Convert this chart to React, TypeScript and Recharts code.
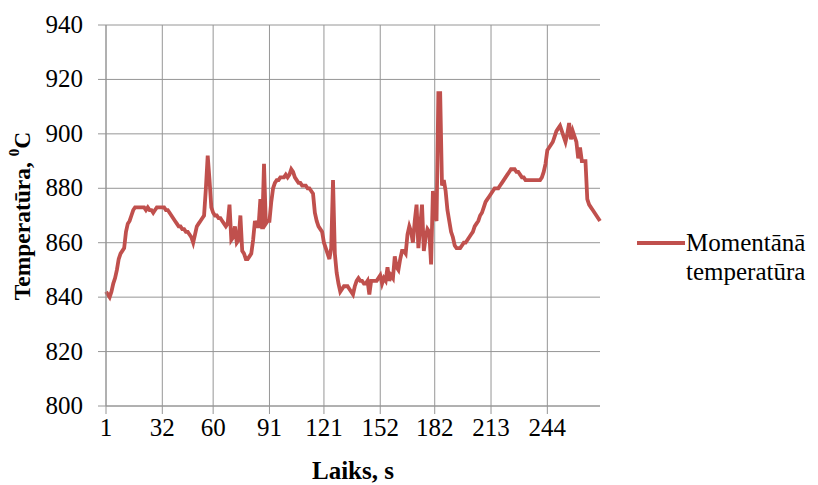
import { CartesianGrid, Line, LineChart, XAxis, YAxis } from 'recharts';
import type { ReactElement } from 'react';

// momentānā temperatūra, one reading per second (s = 1 … 273)
const temperature: number[] = [
  842, 841, 840, 842, 845, 847, 850, 854, 856, 857,
  858, 864, 867, 868, 870, 872, 873, 873, 873, 873,
  873, 873, 872, 873, 872, 872, 871, 872, 873, 873,
  873, 873, 873, 872, 872, 871, 870, 869, 868, 867,
  866, 866, 865, 865, 864, 864, 863, 862, 860, 863,
  866, 867, 868, 869, 870, 880, 892, 883, 873, 871,
  870, 870, 869, 869, 868, 867, 866, 867, 874, 861,
  862, 866, 860, 861, 870, 857, 856, 854, 854, 855,
  856, 861, 868, 866, 866, 876, 865, 889, 867, 868,
  868, 875, 880, 882, 883, 883, 884, 884, 884, 885,
  884, 885, 887, 886, 884, 883, 882, 882, 881, 881,
  881, 880, 880, 879, 878, 871, 868, 866, 865, 864,
  860, 858, 856, 854, 858, 883, 856, 849, 845, 842,
  843, 844, 844, 844, 843, 842, 841, 844, 846, 847,
  846, 846, 845, 845, 846, 841, 846, 846, 846, 846,
  847, 848, 845, 847, 846, 851, 846, 848, 847, 855,
  851, 850, 854, 857, 857, 856, 863, 866, 864, 860,
  868, 874, 858, 866, 874, 857, 862, 865, 864, 852,
  879, 870, 868, 915, 915, 881, 883, 879, 872, 868,
  864, 862, 859, 858, 858, 858, 859, 860, 860, 861,
  862, 863, 864, 866, 867, 868, 870, 871, 873, 875,
  876, 877, 878, 879, 880, 880, 880, 881, 882, 883,
  884, 885, 886, 887, 887, 887, 886, 886, 885, 884,
  884, 883, 883, 883, 883, 883, 883, 883, 883, 883,
  884, 886, 889, 894, 895, 896, 897, 899, 901, 902,
  903, 901, 899, 897, 900, 904, 898, 901, 899, 897,
  891, 895, 890, 890, 890, 876, 874, 873, 872, 871,
  870, 869, 868,
];

const xTicks = [1, 32, 60, 91, 121, 152, 182, 213, 244];
const yTicks = [800, 820, 840, 860, 880, 900, 920, 940];

const data = temperature.map((t, i) => ({ s: i + 1, t }));

const FONT = '"Liberation Serif", "Times New Roman", Times, serif';
const GRID = '#969696';
const RED = '#C0504D';

function XTick(props: any): ReactElement {
  const { x, y, payload } = props;
  return (
    <text x={x} y={y + 18} textAnchor="middle" fontFamily={FONT} fontSize={25} fill="#000">
      {payload.value}
    </text>
  );
}

function YTick(props: any): ReactElement {
  const { x, y, payload } = props;
  return (
    <text x={x} y={y + 8} textAnchor="end" fontFamily={FONT} fontSize={25} fill="#000">
      {payload.value}
    </text>
  );
}

function YTitle(props: any): ReactElement {
  const { viewBox } = props;
  const cx = viewBox.x + 22;
  const cy = 216;
  return (
    <text
      x={cx}
      y={cy}
      transform={`rotate(-90, ${cx}, ${cy})`}
      textAnchor="middle"
      dominantBaseline="central"
      fontFamily={FONT}
      fontSize={23.5}
      fontWeight="bold"
      fill="#000"
    >
      Temperatūra,{' '}
      <tspan fontSize={15} dy={-8}>0</tspan>
      <tspan dy={8}>C</tspan>
    </text>
  );
}

export default function App(): ReactElement {
  return (
    <div
      style={{
        position: 'absolute',
        left: 0,
        top: 0,
        width: 818,
        height: 485,
        background: '#fff',
        fontFamily: FONT,
      }}
    >
      <LineChart
        width={818}
        height={485}
        data={data}
        margin={{ top: 25, right: 218, left: 0, bottom: 0 }}
        style={{ fontFamily: FONT }}
      >
        <CartesianGrid stroke={GRID} strokeWidth={1} horizontalValues={yTicks} verticalValues={xTicks} />
        <XAxis
          dataKey="s"
          type="number"
          domain={[1, 273]}
          ticks={xTicks}
          interval={0}
          height={79}
          stroke={GRID}
          tickSize={8}
          tickMargin={4}
          tick={<XTick />}
          label={{
            value: 'Laiks, s',
            position: 'insideBottom',
            offset: 6,
            fill: '#000',
            fontFamily: FONT,
            fontSize: 25,
            fontWeight: 'bold',
          }}
        />
        <YAxis
          type="number"
          domain={[800, 940]}
          ticks={yTicks}
          interval={0}
          width={106}
          stroke={GRID}
          tickSize={8}
          tickMargin={15}
          tick={<YTick />}
          label={<YTitle />}
        />
        <Line
          type="linear"
          dataKey="t"
          name="Momentānā temperatūra"
          stroke={RED}
          strokeWidth={3.8}
          dot={false}
          isAnimationActive={false}
        />
      </LineChart>
      <div
        style={{
          position: 'absolute',
          left: 636,
          top: 228,
          display: 'flex',
          alignItems: 'flex-start',
          fontFamily: FONT,
          fontSize: 25,
          color: '#000',
        }}
      >
        <svg width={50} height={30} style={{ flex: 'none' }}>
          <line x1={1} y1={15} x2={49} y2={15} stroke={RED} strokeWidth={4} />
        </svg>
        <div style={{ lineHeight: '29px' }}>
          Momentānā
          <br />
          temperatūra
        </div>
      </div>
    </div>
  );
}
